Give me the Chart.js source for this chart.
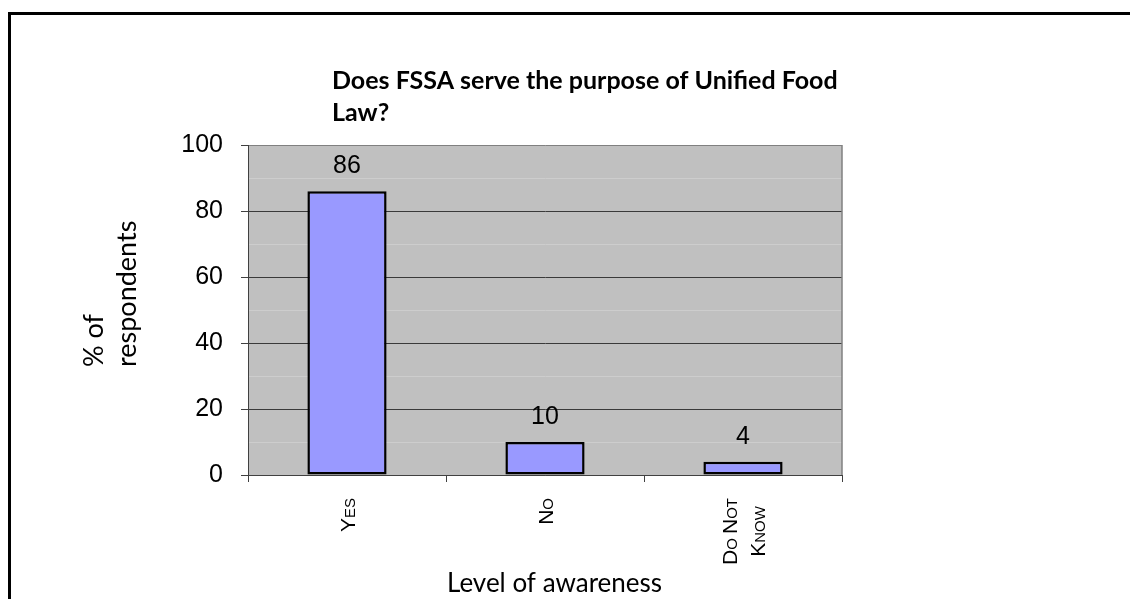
<!DOCTYPE html>
<html>
<head>
<meta charset="utf-8">
<script src="https://cdn.jsdelivr.net/npm/chart.js@4.4.0/dist/chart.umd.min.js"></script>
<style>
  html, body { margin: 0; padding: 0; background: #fff; overflow: hidden; }
  #wrap { position: relative; width: 1130px; height: 599px; }
  #frame {
    position: absolute; left: 8px; top: 12px; right: -20px; bottom: -20px;
    border-left: 3px solid #000; border-top: 3px solid #000; pointer-events: none;
  }
  canvas { position: absolute; left: 0; top: 0; }
</style>
</head>
<body>
<div id="wrap">
  <canvas id="awarenessChart" width="1130" height="599"></canvas>
  <div id="frame"></div>
</div>
<script>
const categories = [['Yes'], ['No'], ['Do Not', 'Know']];
const respondents = [86, 10, 4];
const titleLines = ['Does FSSA serve the purpose of Unified Food', 'Law?'];
const yTitleLines = ['% of', 'respondents'];
const xTitle = 'Level of awareness';

const SANS = '"Liberation Sans", Arial, sans-serif';
const CAP = 21, SMALL = 15;

// small caps by hand: word initials at full size, the rest as smaller capitals
function capsPieces(text) {
  const out = [];
  for (let i = 0; i < text.length; i++) {
    const ch = text[i];
    const first = i === 0 || text[i - 1] === ' ';
    out.push({ ch: ch.toUpperCase(), size: first ? CAP : SMALL });
  }
  return out;
}
function capsWidth(ctx, text) {
  return capsPieces(text).reduce((w, p) => {
    ctx.font = p.size + 'px ' + SANS;
    return w + ctx.measureText(p.ch).width;
  }, 0);
}
function drawCaps(ctx, text, x, y) {
  capsPieces(text).forEach(p => {
    ctx.font = p.size + 'px ' + SANS;
    ctx.fillText(p.ch, x, y);
    x += ctx.measureText(p.ch).width;
  });
}

const plotBg = {
  id: 'plotBg',
  beforeDraw(chart) {
    const { ctx, chartArea: a } = chart;
    ctx.save();
    ctx.fillStyle = '#c0c0c0';
    ctx.fillRect(a.left, a.top, a.right - a.left, a.bottom - a.top);
    ctx.restore();
  },
  beforeDatasetsDraw(chart) {
    const { ctx, chartArea: a } = chart;
    ctx.save();
    ctx.strokeStyle = '#808080';
    ctx.lineWidth = 1.5;
    ctx.beginPath();
    ctx.moveTo(a.right, a.top);
    ctx.lineTo(a.right, a.bottom);
    ctx.stroke();
    ctx.restore();
  }
};

// value labels, category labels and the free-standing titles
const labelsAndTitles = {
  id: 'labelsAndTitles',
  afterDraw(chart) {
    const { ctx, chartArea: a } = chart;
    const xs = chart.scales.x;
    ctx.save();
    ctx.fillStyle = '#000';
    ctx.font = '25px ' + SANS;
    ctx.textAlign = 'center';
    ctx.textBaseline = 'alphabetic';
    chart.getDatasetMeta(0).data.forEach((bar, i) => {
      ctx.fillText(String(respondents[i]), bar.x, bar.y - 18);
    });

    // rotated category names, block hung from the top, lines centred
    ctx.textAlign = 'left';
    categories.forEach((lines, i) => {
      const cx = xs.getPixelForValue(i);
      const widths = lines.map(l => capsWidth(ctx, l));
      const block = Math.max(...widths);
      lines.forEach((line, j) => {
        const mid = cx + (j - (lines.length - 1) / 2) * 28;
        ctx.save();
        ctx.translate(mid + CAP * 0.358, a.bottom + 23 + block / 2 + widths[j] / 2);
        ctx.rotate(-Math.PI / 2);
        drawCaps(ctx, line, 0, 0);
        ctx.restore();
      });
    });

    ctx.font = 'bold 25px Lato, sans-serif';
    titleLines.forEach((line, i) => ctx.fillText(line, a.left + 84, 89 + i * 32));

    ctx.font = '26px Lato, sans-serif';
    ctx.fillText(xTitle, a.left + 199, 592);

    ctx.font = '27px Lato, sans-serif';
    ctx.translate(103, 367);
    ctx.rotate(-Math.PI / 2);
    yTitleLines.forEach((line, i) => ctx.fillText(line, 0, i * 33));
    ctx.restore();
  }
};

new Chart(document.getElementById('awarenessChart'), {
  type: 'bar',
  data: {
    labels: categories,
    datasets: [{
      data: respondents,
      backgroundColor: '#9999ff',
      borderColor: '#000',
      borderWidth: 2.5,
      borderSkipped: false,
      barPercentage: 0.4,
      categoryPercentage: 1
    }]
  },
  options: {
    responsive: false,
    animation: false,
    devicePixelRatio: 1,
    layout: { padding: { top: 145, right: 288, left: 0, bottom: 0 } },
    plugins: {
      legend: { display: false },
      tooltip: { enabled: false }
    },
    scales: {
      x: {
        afterFit: s => { s.height = 124; },
        border: { color: '#404040', width: 1 },
        grid: {
          offset: true,
          drawOnChartArea: false,
          tickLength: 7,
          color: '#404040'
        },
        ticks: {
          autoSkip: false,
          minRotation: 90,
          maxRotation: 90,
          color: 'rgba(0,0,0,0)',
          font: { family: SANS, size: 21 }
        }
      },
      y: {
        min: 0,
        max: 100,
        afterFit: s => { s.width = 248; },
        border: { color: '#404040', width: 1 },
        grid: {
          tickLength: 7,
          color: c => {
            const v = c.tick.value;
            if (v === 100) return '#808080';
            return v % 20 ? '#cdcdcd' : '#3a3a3a';
          },
          tickColor: c => (c.tick.value % 20 ? 'rgba(0,0,0,0)' : '#404040')
        },
        ticks: {
          stepSize: 10,
          padding: 18,
          color: '#000',
          font: { family: SANS, size: 25 },
          callback: v => (v % 20 ? '' : v)
        }
      }
    }
  },
  plugins: [plotBg, labelsAndTitles]
});
</script>
</body>
</html>
